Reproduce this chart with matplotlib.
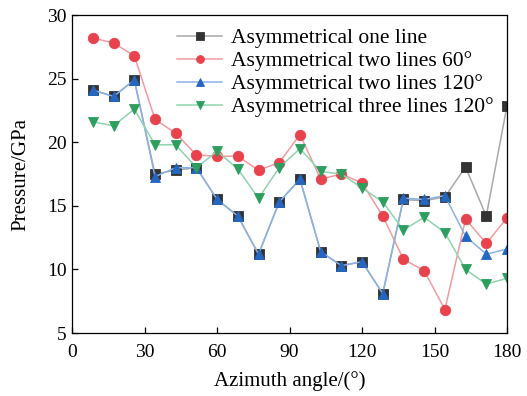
import numpy as np
import matplotlib
matplotlib.use("Agg")
import matplotlib.pyplot as plt

plt.rcParams["font.family"] = ["Liberation Serif", "DejaVu Serif"]

# azimuth angles (21 points, step 180/21)
angle = [8.57, 17.14, 25.71, 34.29, 42.86, 51.43, 60.0, 68.57, 77.14, 85.71, 94.29,
         102.86, 111.43, 120.0, 128.57, 137.14, 145.71, 154.29, 162.86, 171.43, 180.0]

one_line = [24.1, 23.6, 24.9, 17.5, 17.8, 18.0, 15.5, 14.2, 11.2, 15.3, 17.1,
            11.4, 10.3, 10.6, 8.1, 15.5, 15.4, 15.7, 18.05, 14.2, 22.85]
two_60 = [28.2, 27.8, 26.8, 21.8, 20.7, 19.0, 18.9, 18.9, 17.8, 18.4, 20.6,
          17.1, 17.5, 16.8, 14.2, 10.8, 9.9, 6.85, 13.95, 12.05, 14.05]
two_120 = [24.1, 23.6, 24.9, 17.3, 18.0, 18.0, 15.5, 14.2, 11.2, 15.3, 17.1,
           11.4, 10.3, 10.6, 8.1, 15.6, 15.5, 15.8, 12.6, 11.2, 11.6]
three_120 = [21.6, 21.3, 22.6, 19.8, 19.8, 18.0, 19.3, 17.9, 15.6, 18.0, 19.5,
             17.7, 17.5, 16.4, 15.3, 13.1, 14.1, 12.9, 10.0, 8.85, 9.3]

labels = ["Asymmetrical one line", "Asymmetrical two lines 60°",
          "Asymmetrical two lines 120°", "Asymmetrical three lines 120°"]

# (line colour, marker colour, marker)
styles = [("#a8a8a8", "#333333", "s"),
          ("#f29a9f", "#e8424c", "o"),
          ("#8ab2e6", "#2466c0", "^"),
          ("#8fd4ad", "#2c9e5e", "v")]

fig = plt.figure(figsize=(5.27, 3.96), dpi=100)
ax = fig.add_axes([0.137, 0.159, 0.825, 0.803])

for ys, lab, (lc, mc, mk) in zip([one_line, two_60, two_120, three_120], labels, styles):
    ax.plot(angle, ys, color=lc, lw=1.1, marker=mk, markersize=7.5,
            markerfacecolor=mc, markeredgecolor=mc, markeredgewidth=0.6, label=lab)

ax.set_xlim(0, 180)
ax.set_ylim(5, 30)
ax.set_xticks(np.arange(0, 181, 30))
ax.set_yticks(np.arange(5, 31, 5))
ax.tick_params(direction="in", labelsize=14, length=4, width=0.9)
ax.tick_params(axis="x", pad=8)
ax.tick_params(axis="y", pad=4)
for s in ax.spines.values():
    s.set_linewidth(0.9)

ax.set_xlabel("Azimuth angle/(°)", fontsize=15, labelpad=7)
ax.set_ylabel("Pressure/GPa", fontsize=15, labelpad=12)

ax.legend(loc="upper right", bbox_to_anchor=(1.0, 1.0), frameon=False,
          fontsize=15.5, handlelength=2.1, handletextpad=0.4, markerscale=0.75,
          labelspacing=0.13, borderaxespad=0.0, borderpad=0.62)

fig.savefig("out.png", dpi=100)
